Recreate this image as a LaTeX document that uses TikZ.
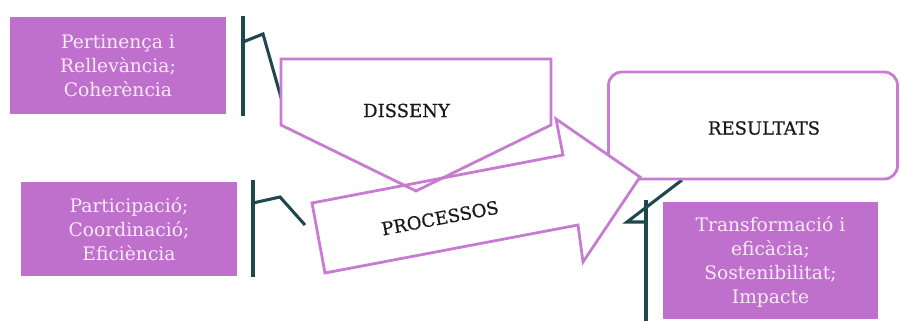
\documentclass[tikz,border=0pt]{standalone}
\usepackage{fontspec}
\setmainfont{DejaVu Serif}
\newfontfamily\labelfont[FakeBold=0.6]{DejaVu Serif}
\definecolor{boxpurple}{HTML}{BF70CC}
\definecolor{linepurple}{HTML}{C77CD2}
\definecolor{bracketteal}{HTML}{1E474E}
\definecolor{boxtext}{HTML}{F7EAF7}
\begin{document}
\begin{tikzpicture}[x=0.75pt,y=-0.75pt,
  infobox/.style={fill=boxpurple, draw=none, inner sep=0pt},
  infotext/.style={text=boxtext, align=center,
    font=\fontsize{14}{18}\selectfont, inner sep=0pt},
  bracket/.style={draw=bracketteal, line width=2.3pt},
  outline/.style={draw=linepurple, line width=2.1pt, line join=miter},
  lbl/.style={font=\labelfont\fontsize{13.5}{15}\selectfont, text=black!90, inner sep=0pt}]
\useasboundingbox (0,0) rectangle (900,321);

% named points
\coordinate (d1) at (281,59);  \coordinate (d2) at (551,59);
\coordinate (d3) at (551,125); \coordinate (d4) at (416,191);
\coordinate (d5) at (281,125);
\coordinate (p1) at (312,203); \coordinate (p2) at (563,155);
\coordinate (p3) at (556,119); \coordinate (p4) at (640,177);
\coordinate (p5) at (583,262); \coordinate (p6) at (578,225);
\coordinate (p7) at (325,273);

% info boxes
\node[infobox, minimum width=162pt, minimum height=72.75pt] (b1) at (118,65.5) {};
\node[infotext] (b1t) at (118,66) {Pertinença i\\Rellevància;\\Coherència};
\node[infobox, minimum width=162pt, minimum height=70.5pt] (b2) at (129,229) {};
\node[infotext] (b2t) at (129,229) {Participació;\\Coordinació;\\Eficiència};
\node[infobox, minimum width=161.25pt, minimum height=87.75pt] (b3) at (770.5,260.5) {};
\node[infotext] (b3t) at (770.5,262)
  {Transformació i\\eficàcia;\\Sostenibilitat;\\Impacte};

% brackets
\coordinate (k1a) at (243,16); \coordinate (k1b) at (243,116);
\coordinate (k1c) at (243,42); \coordinate (k1d) at (263,34); \coordinate (k1e) at (284,108);
\draw[bracket] (k1a) -- (k1b);
\draw[bracket] (k1c) -- (k1d) -- (k1e);
\coordinate (k2a) at (253,180); \coordinate (k2b) at (253,277);
\coordinate (k2c) at (253,203); \coordinate (k2d) at (280,197); \coordinate (k2e) at (305,225);
\draw[bracket] (k2a) -- (k2b);
\draw[bracket] (k2c) -- (k2d) -- (k2e);
\coordinate (k3a) at (646,200); \coordinate (k3b) at (646,321);
\coordinate (k3c) at (682,180); \coordinate (k3d) at (627,222); \coordinate (k3e) at (647,222);
\draw[bracket] (k3a) -- (k3b);
\draw[bracket] (k3c) -- (k3d) -- (k3e);

% resultats box
\node[draw=linepurple, line width=2.1pt, fill=white, rounded corners=10pt,
  minimum width=216.75pt, minimum height=80.25pt] (res) at (753,125.5) {};
\node[lbl] (rest) at (764,128) {RESULTATS};

% fills
\fill[white] (d1) -- (d2) -- (d3) -- (d4) -- (d5) -- cycle;
\fill[white] (p1) -- (p2) -- (p3) -- (p4) -- (p5) -- (p6) -- (p7) -- cycle;
% outlines
\draw[outline] (d1) -- (d2) -- (d3) -- (d4) -- (d5) -- cycle;
\draw[outline] (p1) -- (p2) -- (p3) -- (p4) -- (p5) -- (p6) -- (p7) -- cycle;

\node[lbl] (dis) at (406.5,110.5) {DISSENY};
\node[lbl, rotate=10.8] (proc) at (440,218) {PROCESSOS};
\end{tikzpicture}
\end{document}
